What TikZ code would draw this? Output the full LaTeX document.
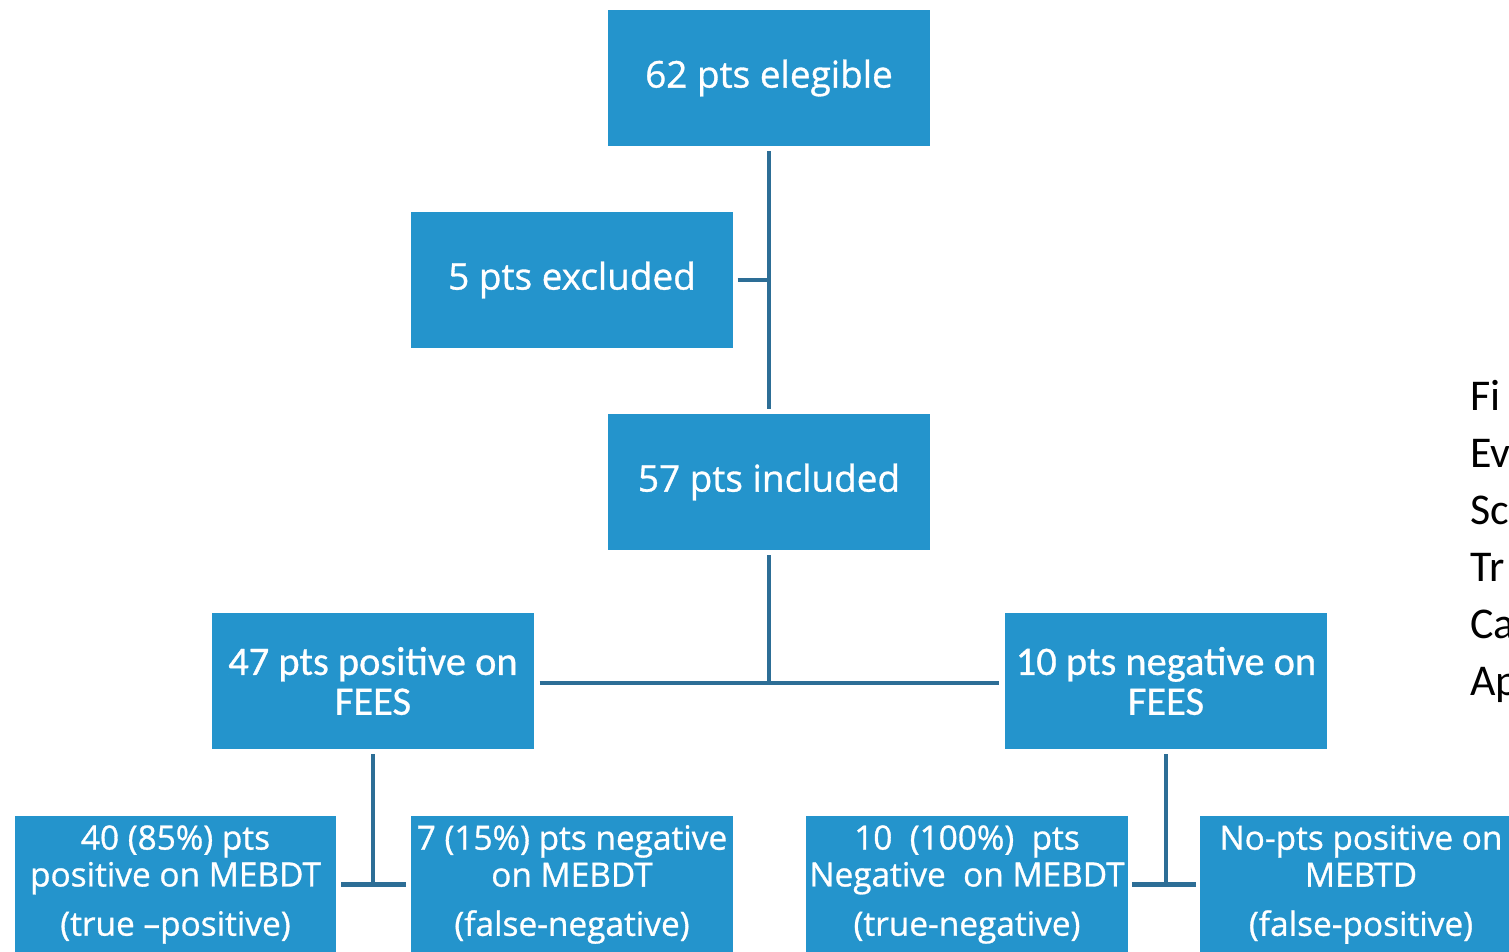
\documentclass[tikz,border=0pt]{standalone}
\usepackage{fontspec}
\newfontfamily\boxfont{Open Sans}[FakeBold=0.9]
\newfontfamily\feesfont{Carlito}[FakeBold=0.7]
\newfontfamily\calfont{Carlito}
\definecolor{boxblue}{HTML}{2494CC}
\definecolor{linkblue}{HTML}{2D6E96}
\tikzstyle{box}=[fill=boxblue, text=white, minimum width=6.44cm, minimum height=2.74cm, inner sep=0pt, align=center]
\tikzstyle{link}=[draw=linkblue, line width=2.6pt]

\begin{document}
\begin{tikzpicture}[x=0.02cm, y=-0.02cm]
\useasboundingbox (0, 0) rectangle (1509, 951);

\node[box, font=\boxfont\fontsize{21}{24}\selectfont] (elig) at (769, 78) {62 pts elegible};
\node[box, font=\boxfont\fontsize{21}{24}\selectfont] (excl) at (572, 280) {5 pts excluded};
\node[box, font=\boxfont\fontsize{21}{24}\selectfont] (incl) at (769, 482) {57 pts included};

\node[box, font=\feesfont\fontsize{23}{22.7}\selectfont] (posF) at (373, 681) {47 pts positive on\\FEES};
\node[box, font=\feesfont\fontsize{23}{22.7}\selectfont] (negF) at (1166, 681) {10 pts negative on\\FEES};

\node[box, font=\boxfont\fontsize{19}{21}\selectfont] (tp) at (175.5, 884.5) {40 (85\%) pts\\positive on MEBDT\\[7pt](true –positive)};
\node[box, font=\boxfont\fontsize{19}{21}\selectfont] (fn) at (572, 884.5) {7 (15\%) pts negative\\on MEBDT\\[7pt](false-negative)};
\node[box, font=\boxfont\fontsize{19}{21}\selectfont] (tn) at (967, 884.5) {10\ \ (100\%)\ \ pts\\Negative\ \ on MEBDT\\[7pt](true-negative)};
\node[box, font=\boxfont\fontsize{19}{21}\selectfont] (fp) at (1361, 884.5) {No-pts positive on\\MEBTD\\[7pt](false-positive)};

\coordinate (split) at (769, 683);

\draw[link, shorten <=2.5pt, shorten >=2.5pt] (elig.south) -- (incl.north);
\draw[link, shorten <=2.5pt] (excl.east) -- (excl.east -| elig.south);
\draw[link, shorten <=2.5pt] (incl.south) -- (split);
\draw[link, shorten <=3pt, shorten >=3pt] (posF.east |- split) -- (negF.west |- split);

\draw[link, shorten <=2.5pt] (posF.south) -- (posF.south |- tp.east);
\draw[link, shorten <=2.5pt, shorten >=2.5pt] (tp.east) -- (fn.west);
\draw[link, shorten <=2.5pt] (negF.south) -- (negF.south |- tn.east);
\draw[link, shorten <=2pt, shorten >=2pt] (tn.east) -- (fp.west);

\foreach \txt [count=\i] in {Fi, Ev, Sc, Tr, Ca, Ap}
  \node[anchor=base west, inner sep=0pt, font=\calfont\fontsize{25}{28}\selectfont] (cap\i) at (1470, 353 + 57*\i) {\txt};

\end{tikzpicture}
\end{document}
